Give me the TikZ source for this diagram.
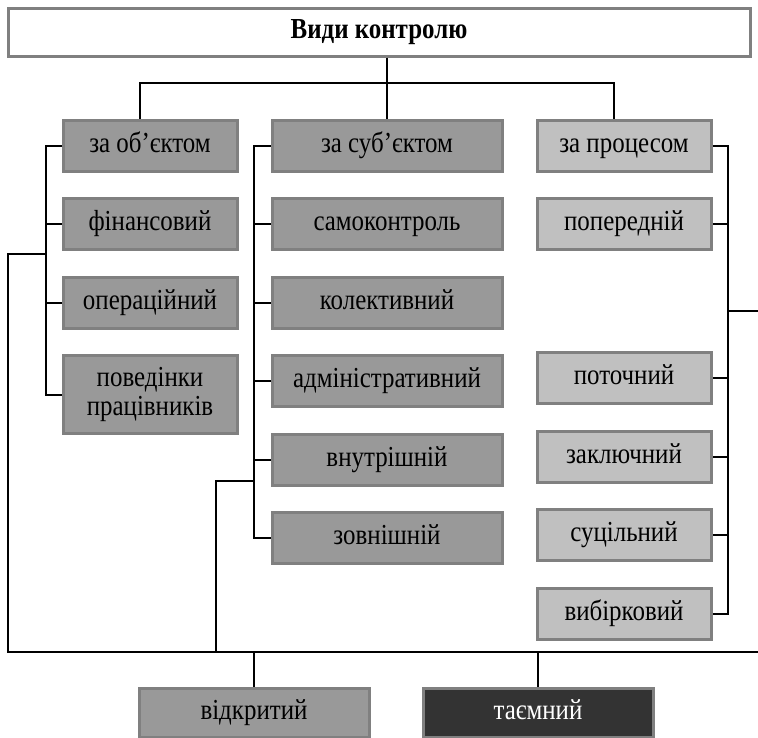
\documentclass[tikz,border=0pt]{standalone}
\usepackage{fontspec}
\setmainfont{Liberation Serif}[FakeStretch=0.86]
\usepackage{tikz}
\usetikzlibrary{positioning}

\definecolor{boxgray}{HTML}{999999}
\definecolor{procgray}{HTML}{C0C0C0}
\definecolor{edgegray}{HTML}{808080}
\definecolor{darkbox}{HTML}{333333}

\begin{document}
\begin{tikzpicture}[
    x=1pt, y=-1pt,
    node distance=24.5pt,
    every node/.style={font=\fontsize{29}{29}\selectfont},
    kind/.style={draw=edgegray, line width=3pt, fill=boxgray, minimum height=51pt, inner sep=2pt, align=center, text height=19pt, text depth=6pt},
    objbox/.style={kind, minimum width=174pt},
    subjbox/.style={kind, minimum width=230pt},
    procbox/.style={kind, fill=procgray, minimum width=174pt},
    ln/.style={line width=2pt}
]
\useasboundingbox (0,0) rectangle (758,737);
% ----- Top: title -----
\node[kind, fill=white, minimum width=742pt, minimum height=48pt, font=\bfseries\fontsize{29}{29}\selectfont] (vydy) at (379,32) {Види контролю};
% ----- Left column: by object -----
\node[objbox] (obj) at (150,145.5) {за об’єктом};
\node[objbox, below=of obj] (fin) {фінансовий};
\node[objbox, below=of fin] (oper) {операційний};
\node[objbox, below=of oper, minimum height=78pt, text height=, text depth=] (behav) {поведінки\\працівників};
% ----- Middle column: by subject -----
\node[subjbox] (subj) at (387,145.5) {за суб’єктом};
\node[subjbox, below=of subj] (self) {самоконтроль};
\node[subjbox, below=of self] (coll) {колективний};
\node[subjbox, below=of coll] (admin) {адміністративний};
\node[subjbox, below=of admin] (intern) {внутрішній};
\node[subjbox, below=of intern] (extern) {зовнішній};
% ----- Right column: by process -----
\node[procbox] (proc) at (624,145.5) {за процесом};
\node[procbox, below=of proc] (prelim) {попередній};
\node[procbox, below=100pt of prelim] (current) {поточний};
\node[procbox, below=of current] (final) {заключний};
\node[procbox, below=of final] (full) {суцільний};
\node[procbox, below=of full] (sample) {вибірковий};
% ----- Bottom: openness -----
\node[subjbox, minimum height=49pt] (open) at (254,712.5) {відкритий};
\node[subjbox, minimum height=49pt, fill=darkbox, text=white] (secret) at (538,712.5) {таємний};
% bus corners
\coordinate (top) at (0,83);
\coordinate (base) at (0,652);
\coordinate (busL) at (46,0);
\coordinate (busM) at (254,0);
\coordinate (busR) at (728,0);
\coordinate (objIn) at ([xshift=-10pt]obj.north);
\coordinate (procIn) at ([xshift=-10pt]proc.north);
% title to the three columns
\draw[ln] (vydy.south -| subj.north) -- (subj.north);
\draw[ln] (objIn) |- (top -| procIn) -- (procIn);
% left column bus
\draw[ln] (obj.west) -| (busL |- behav.west) -- (behav.west);
\foreach \n in {fin,oper} \draw[ln] (busL |- \n.west) -- (\n.west);
\draw[ln] (busL |- 0,254) -| (8,652) -- (base -| 758,0);
% middle column bus
\draw[ln] (subj.west) -| (busM |- extern.west) -- (extern.west);
\foreach \n in {self,coll,admin,intern} \draw[ln] (busM |- \n.west) -- (\n.west);
\draw[ln] (busM |- 0,481) -| (216,652);
% right column bus
\draw[ln] (proc.east) -| (busR |- sample.east) -- (sample.east);
\foreach \n in {prelim,current,final,full} \draw[ln] (busR |- \n.east) -- (\n.east);
\draw[ln] (busR |- 0,311) -- (758,311);
% bottom line to the two boxes
\draw[ln] (base -| open.north) -- (open.north);
\draw[ln] (base -| secret.north) -- (secret.north);
\end{tikzpicture}
\end{document}
